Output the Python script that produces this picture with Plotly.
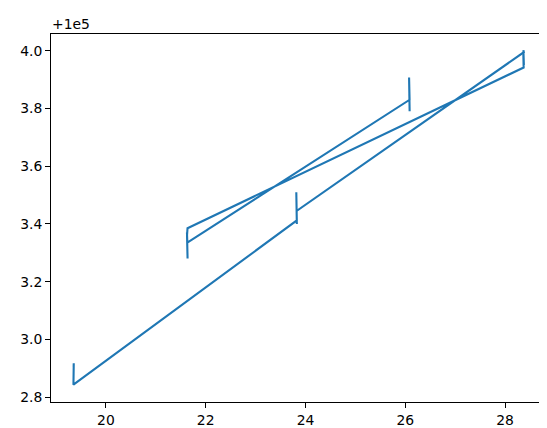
import plotly.graph_objects as go

# Data (y values are offsets from 1e5)
OFFSET = 1e5
x_vals = [19.354, 19.346, 19.356, 19.345, 19.353, 19.350,
          23.826, 23.816, 23.827, 23.815, 23.824, 23.822,
          28.376, 28.367, 28.377, 28.366, 28.372,
          21.636, 21.626, 21.637, 21.625, 21.634, 21.632,
          26.086, 26.076, 26.087, 26.075, 26.081]
y_offsets = [2.905, 2.870, 2.917, 2.860, 2.890, 2.843,
             3.412, 3.510, 3.400, 3.490, 3.420, 3.445,
             3.995, 4.002, 3.950, 3.985, 3.942,
             3.385, 3.360, 3.280, 3.370, 3.300, 3.335,
             3.830, 3.907, 3.790, 3.880, 3.850]
x_ticks = [20, 22, 24, 26, 28]
y_tick_labels = ["2.8", "3.0", "3.2", "3.4", "3.6", "3.8", "4.0"]

y_vals = [OFFSET + v for v in y_offsets]

fig = go.Figure(go.Scatter(
    x=x_vals, y=y_vals, mode="lines",
    line=dict(color="#1f77b4", width=2.1),
))

font = dict(family="DejaVu Sans", size=13.9, color="black")
axis_common = dict(showline=True, linecolor="black", linewidth=1, mirror=True,
                   ticks="outside", ticklen=5, tickwidth=1, tickcolor="black",
                   showgrid=False, zeroline=False, tickfont=font,
                   automargin=False)

fig.update_layout(
    width=547, height=428,
    margin=dict(l=43, r=9, t=26, b=34, pad=0),
    paper_bgcolor="white", plot_bgcolor="white",
    showlegend=False,
    xaxis=dict(range=[18.90, 28.82], tickvals=x_ticks,
               ticktext=[str(t) for t in x_ticks], **axis_common),
    yaxis=dict(range=[OFFSET + 2.783, OFFSET + 4.058],
               tickvals=[OFFSET + float(t) for t in y_tick_labels],
               ticktext=y_tick_labels, **axis_common),
    annotations=[dict(text="+1e5", xref="paper", yref="paper", x=0, y=1,
                      xanchor="left", yanchor="bottom", showarrow=False,
                      font=font, yshift=0, xshift=-1)],
)

fig.write_html("out.html")
